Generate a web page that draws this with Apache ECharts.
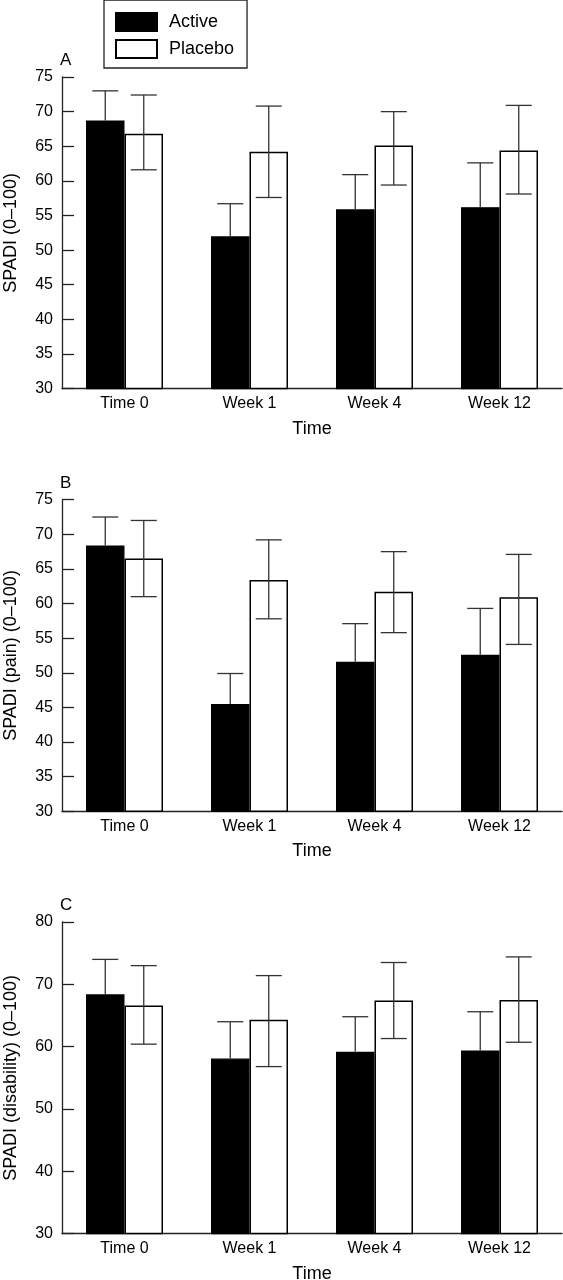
<!DOCTYPE html>
<html>
<head>
<meta charset="utf-8">
<script src="https://cdn.jsdelivr.net/npm/echarts@6/dist/echarts.min.js"></script>
<style>
html,body{margin:0;padding:0;background:#fff;}
#chart{width:563px;height:1280px;}
</style>
</head>
<body>
<div id="chart"></div>
<script>
// ---- data ----
var categories = ['Time 0', 'Week 1', 'Week 4', 'Week 12'];
var seriesNames = ['Active', 'Placebo'];
var panelLabels = ['A', 'B', 'C'];
var yAxisNames = ['SPADI (0\u2013100)', 'SPADI (pain) (0\u2013100)', 'SPADI (disability) (0\u2013100)'];
var xAxisName = 'Time';

// Panel A: SPADI total
var activeA = [68.7, 52.0, 55.9, 56.2];
var activeUpperA = [73.0, 56.7, 60.9, 62.6];
var placeboA = [66.8, 64.2, 65.1, 64.4];
var placeboUpperA = [72.4, 70.8, 70.0, 70.9];
var placeboLowerA = [61.6, 57.6, 59.4, 58.1];

// Panel B: SPADI pain
var activeB = [68.4, 45.5, 51.6, 52.6];
var activeUpperB = [72.5, 49.9, 57.1, 59.3];
var placeboB = [66.5, 63.4, 61.7, 60.9];
var placeboUpperB = [72.0, 69.2, 67.5, 67.1];
var placeboLowerB = [61.0, 57.8, 55.8, 54.1];

// Panel C: SPADI disability
var activeC = [68.4, 58.1, 59.2, 59.4];
var activeUpperC = [74.0, 64.0, 64.8, 65.6];
var placeboC = [66.6, 64.3, 67.4, 67.5];
var placeboUpperC = [73.0, 71.4, 73.5, 74.4];
var placeboLowerC = [60.4, 56.8, 61.3, 60.7];

// axis ranges
var yMin = [30, 30, 30];
var yMax = [75, 75, 80];
var yInterval = [5, 5, 10];

var panels = [
  {active: activeA, activeUpper: activeUpperA, placebo: placeboA, placeboUpper: placeboUpperA, placeboLower: placeboLowerA},
  {active: activeB, activeUpper: activeUpperB, placebo: placeboB, placeboUpper: placeboUpperB, placeboLower: placeboLowerB},
  {active: activeC, activeUpper: activeUpperC, placebo: placeboC, placeboUpper: placeboUpperC, placeboLower: placeboLowerC}
];

// ---- layout ----
var FONT = 'Liberation Sans, Arial, sans-serif';
var gridTops = [77, 499.7, 922];
var gridHeight = 311.6;
var labelTops = [47, 469.5, 891.5];
var BAR_PCT = 0.308;

var chart = echarts.init(document.getElementById('chart'), null, {renderer: 'canvas'});

var grids = [], xAxes = [], yAxes = [], series = [], titles = [];

function errRender(params, api) {
  var cat = api.value(0);
  var low = api.value(1);
  var high = api.value(2);
  var side = api.value(3); // -1 active, +1 placebo
  var band = api.size([1, 0])[0];
  var bw = band * BAR_PCT;
  var pHigh = api.coord([cat, high]);
  var pLow = api.coord([cat, low]);
  var x = pHigh[0] + side * bw / 2;
  var half = 13;
  var style = {stroke: '#333', lineWidth: 1.3, fill: null};
  var children = [
    {type: 'line', shape: {x1: x, y1: pHigh[1], x2: x, y2: pLow[1]}, style: style},
    {type: 'line', shape: {x1: x - half, y1: pHigh[1], x2: x + half, y2: pHigh[1]}, style: style}
  ];
  if (side > 0) {
    children.push({type: 'line', shape: {x1: x - half, y1: pLow[1], x2: x + half, y2: pLow[1]}, style: style});
  }
  return {type: 'group', children: children};
}

panels.forEach(function (p, i) {
  grids.push({left: 62, right: 1, top: gridTops[i], height: gridHeight, containLabel: false, outerBoundsMode: 'none'});
  xAxes.push({
    type: 'category', gridIndex: i, data: categories,
    boundaryGap: true,
    name: xAxisName, nameLocation: 'middle', nameGap: 31,
    nameTextStyle: {fontFamily: FONT, fontSize: 18, color: '#000'},
    axisLine: {lineStyle: {color: '#222', width: 1.3}},
    axisTick: {inside: true, length: 13, alignWithLabel: false, lineStyle: {color: '#222', width: 1.3}},
    axisLabel: {fontFamily: FONT, fontSize: 16, color: '#000', margin: 7, interval: 0},
    splitLine: {show: false}
  });
  yAxes.push({
    type: 'value', gridIndex: i, min: yMin[i], max: yMax[i], interval: yInterval[i],
    name: yAxisNames[i], nameLocation: 'middle', nameGap: 42, nameRotate: 90,
    nameTextStyle: {fontFamily: FONT, fontSize: 18, color: '#000'},
    axisLine: {show: true, lineStyle: {color: '#222', width: 1.3}},
    axisTick: {show: true, inside: true, length: 12, lineStyle: {color: '#222', width: 1.3}},
    axisLabel: {fontFamily: FONT, fontSize: 16, color: '#000', margin: 9},
    splitLine: {show: false}
  });
  titles.push({
    text: panelLabels[i], left: 55, top: labelTops[i],
    textStyle: {fontFamily: FONT, fontSize: 17, fontWeight: 'normal', color: '#000'}
  });
  series.push({
    name: seriesNames[0], type: 'bar', xAxisIndex: i, yAxisIndex: i,
    data: p.active, barWidth: (BAR_PCT * 100) + '%', barGap: '0%',
    itemStyle: {color: '#000', borderColor: '#000', borderWidth: 1.3},
    z: 2, silent: true
  });
  series.push({
    name: seriesNames[1], type: 'bar', xAxisIndex: i, yAxisIndex: i,
    data: p.placebo, barWidth: (BAR_PCT * 100) + '%', barGap: '0%',
    itemStyle: {color: '#fff', borderColor: '#000', borderWidth: 1.5},
    z: 2, silent: true
  });
  var errData = [];
  for (var k = 0; k < categories.length; k++) {
    errData.push([k, p.active[k], p.activeUpper[k], -1]);
    errData.push([k, p.placeboLower[k], p.placeboUpper[k], 1]);
  }
  series.push({
    type: 'custom', xAxisIndex: i, yAxisIndex: i,
    renderItem: errRender, data: errData, z: 5, silent: true,
    encode: {x: 0, y: [1, 2]}
  });
});

chart.setOption({
  backgroundColor: '#fff',
  animation: false,
  title: titles,
  legend: {
    data: seriesNames, orient: 'vertical', left: 104, top: 0,
    borderColor: '#222', borderWidth: 1.3,
    padding: [12, 13, 9, 11],
    itemWidth: 41, itemHeight: 18, itemGap: 7,
    icon: 'rect',
    textStyle: {fontFamily: FONT, fontSize: 18, color: '#000', padding: [0, 0, 0, 7], lineHeight: 18},
    selectedMode: false
  },
  grid: grids,
  xAxis: xAxes,
  yAxis: yAxes,
  series: series
});
</script>
</body>
</html>
